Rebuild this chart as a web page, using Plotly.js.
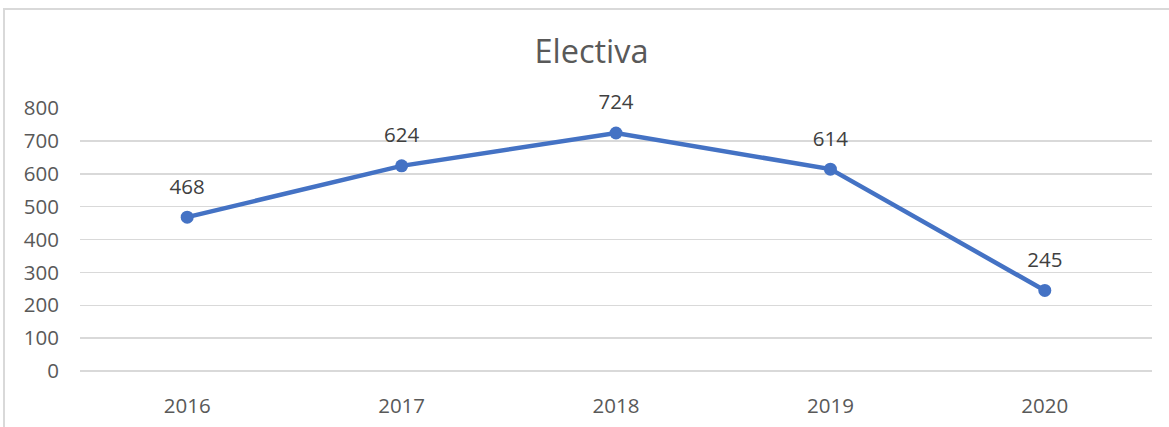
<!DOCTYPE html>
<html><head><meta charset="utf-8">
<script src="https://cdn.plot.ly/plotly-3.0.1.min.js"></script>
<style>
html,body{margin:0;padding:0;background:#fff;overflow:hidden}
#wrap{position:relative;width:1169px;height:427px}
#chart{position:absolute;left:0;top:0;width:1169px;height:427px}
#frame{position:absolute;left:3px;top:8px;width:1200px;height:500px;border:2px solid #d9d9d9;pointer-events:none;box-sizing:border-box}
</style></head>
<body>
<div id="wrap"><div id="chart"></div><div id="frame"></div></div>
<script>
var categories = ["2016", "2017", "2018", "2019", "2020"];
var values = [468, 624, 724, 614, 245];
var yTicks = [0, 100, 200, 300, 400, 500, 600, 700, 800];
var titleText = "Electiva";

var font = "Open Sans, Noto Sans, sans-serif";
var txt = "#595959";

var trace = {
  x: categories, y: values, type: "scatter", mode: "lines+markers",
  line: {color: "#4472C4", width: 4.5},
  marker: {color: "#4472C4", size: 13},
  cliponaxis: false, hoverinfo: "none"
};

var labelTrace = {
  x: categories, y: values, type: "scatter", mode: "markers+text",
  text: values.map(String), textposition: "top center",
  textfont: {family: font, size: 20.5, color: "#404040"},
  marker: {color: "rgba(0,0,0,0)", size: 28},
  cliponaxis: false, hoverinfo: "none"
};

var layout = {
  width: 1169, height: 427,
  margin: {l: 80, r: 17, t: 108, b: 56},
  paper_bgcolor: "rgba(0,0,0,0)", plot_bgcolor: "rgba(0,0,0,0)",
  showlegend: false,
  title: {text: titleText, font: {family: font, size: 32.5, color: txt}, x: 0.506, xanchor: "center", y: 0.878, yanchor: "middle"},
  xaxis: {type: "category", tickvals: categories, ticktext: categories, showgrid: false, zeroline: false, showline: false,
    ticks: "", ticklabelstandoff: 20, tickfont: {family: font, size: 20.5, color: txt}, range: [-0.5, 4.5], fixedrange: true},
  yaxis: {range: [0, 800], tickvals: yTicks, ticktext: yTicks.map(String), showgrid: true, gridcolor: "#d9d9d9", gridwidth: 1.5,
    zeroline: true, zerolinecolor: "#d9d9d9", zerolinewidth: 1.5, showline: false, ticks: "", ticklabelstandoff: 20,
    tickfont: {family: font, size: 20.5, color: txt}, fixedrange: true}
};

Plotly.newPlot("chart", [trace, labelTrace], layout, {staticPlot: true, displayModeBar: false});
</script>
</body></html>
